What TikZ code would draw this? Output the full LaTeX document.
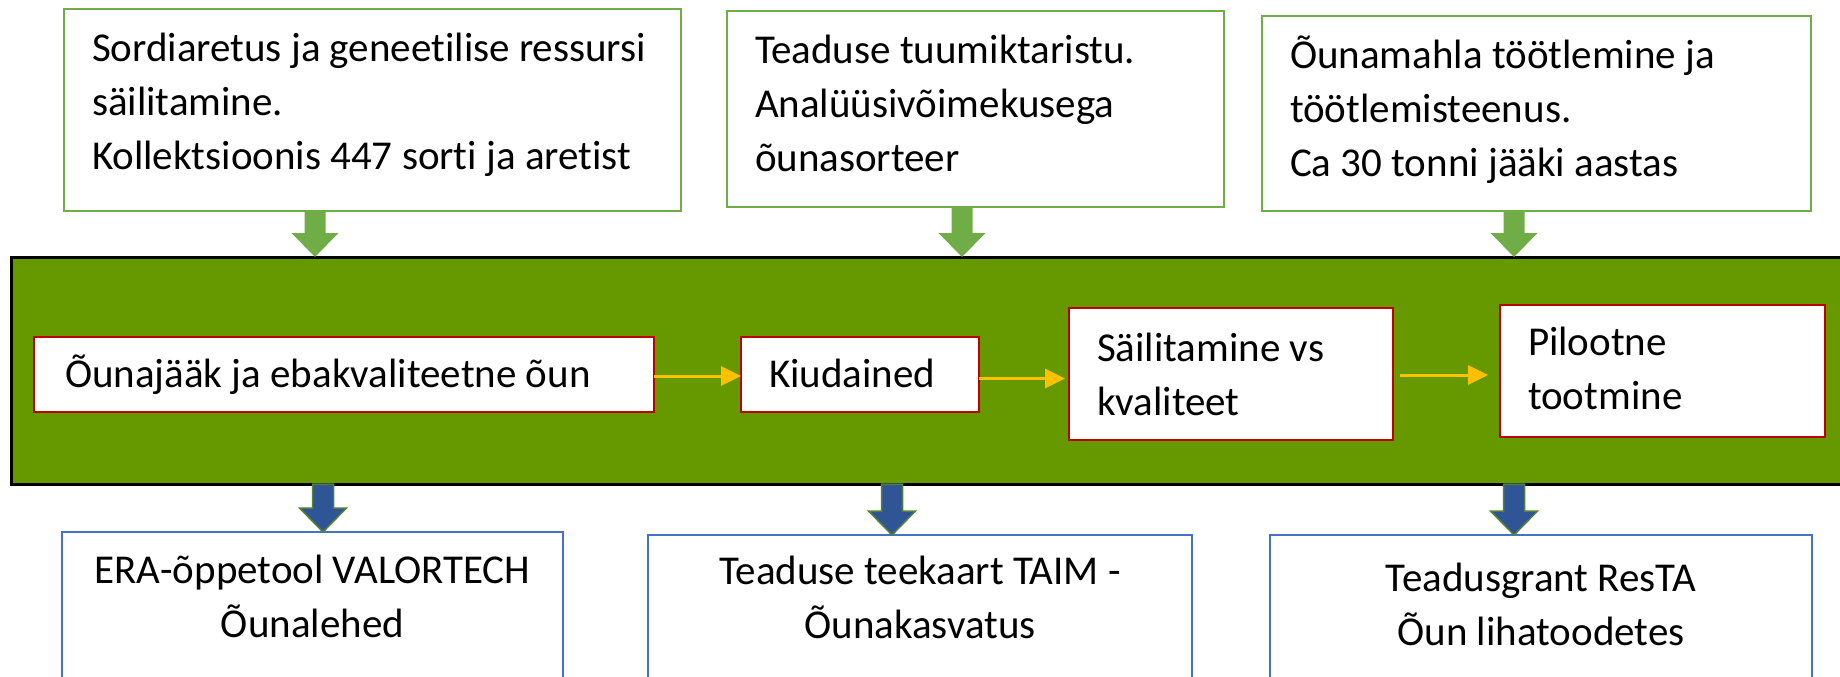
\documentclass[tikz,border=0pt]{standalone}
\usepackage{fontspec}
\setmainfont{Carlito}[Ligatures=NoCommon]
\usetikzlibrary{arrows.meta,calc}
\definecolor{topgreen}{HTML}{70AD47}
\definecolor{bandgreen}{HTML}{669900}
\definecolor{boxred}{HTML}{C00000}
\definecolor{arrorange}{HTML}{FFC000}
\definecolor{arrblue}{HTML}{2F5597}
\definecolor{edgegreen}{HTML}{548235}
\definecolor{boxblue}{HTML}{4472C4}
\newcommand\blockarr[3]{%
  \path[#1] let \p1=(#2), \p2=(#3) in
    (\x1-10.5pt,\y1) -- (\x1+10.5pt,\y1) -- (\x1+10.5pt,\y2+24pt) -- (\x1+23.5pt,\y2+24pt)
    -- (\x1,\y2) -- (\x1-23.5pt,\y2+24pt) -- (\x1-10.5pt,\y2+24pt) -- cycle;}
\tikzset{
  box/.style={rectangle, inner sep=0pt, outer sep=0pt, anchor=north west},
  topbox/.style={box, draw=topgreen, line width=2.5pt, fill=white},
  redbox/.style={box, draw=boxred, line width=2.5pt, fill=white},
  botbox/.style={box, draw=boxblue, line width=2pt, fill=white},
  bandbox/.style={box, draw=black, line width=3pt, fill=bandgreen},
  txt/.style={inner sep=0pt, outer sep=0pt, font=\fontsize{41}{54}\selectfont, text=black},
  ltxt/.style={txt, anchor=base west, align=left},
  ctxt/.style={txt, anchor=base, align=center},
  greenarr/.style={fill=topgreen},
  bluearr/.style={fill=arrblue, draw=edgegreen, line width=1.5pt},
  orangearr/.style={draw=arrorange, line width=3pt, -{Triangle[length=20pt,width=19pt]}},
}
\begin{document}
\begin{tikzpicture}[x=1pt,y=-1pt]
\useasboundingbox (0,0) rectangle (1840,677);
\clip (0,0) rectangle (1840,677);
\fill[white] (0,0) rectangle (1840,677);

% top boxes
\node[topbox, minimum width=617pt, minimum height=202pt] (b1) at (64,9) {};
\node[topbox, minimum width=497pt, minimum height=196pt] (b2) at (727,11) {};
\node[topbox, minimum width=549pt, minimum height=195pt] (b3) at (1262,16) {};
% (anchor base = baseline of the last line)
\node[ltxt] (t1) at (92,169) {Sordiaretus ja geneetilise ressursi\\säilitamine.\\Kollektsioonis 447 sorti ja aretist};
\node[ltxt] (t2) at (755,171) {Teaduse tuumiktaristu.\\Analüüsivõimekusega\\õunasorteer};
\node[ltxt] (t3) at (1290,176) {Õunamahla töötlemine ja\\töötlemisteenus.\\Ca 30 tonni jääki aastas};

% band
\node[bandbox, minimum width=1859pt, minimum height=227pt] (band) at (11,257) {};

% inner boxes
\node[redbox, minimum width=620pt, minimum height=75pt] (A) at (34,337) {};
\node[redbox, minimum width=238pt, minimum height=75pt] (B) at (741,337) {};
\node[redbox, minimum width=324pt, minimum height=132pt] (C) at (1069,308) {};
\node[redbox, minimum width=325pt, minimum height=132pt] (D) at (1500,305) {};
\node[ltxt] (ta) at (65,387) {Õunajääk ja ebakvaliteetne õun};
\node[ltxt] (tb) at (769,387) {Kiudained};
\node[ltxt] (tc) at (1097,415) {Säilitamine vs\\kvaliteet};
\node[ltxt] (td) at (1528,409) {Pilootne\\tootmine};

% bottom boxes
\node[botbox, minimum width=501pt, minimum height=200pt] (E) at (62,532) {};
\node[botbox, minimum width=544pt, minimum height=200pt] (F) at (648,535) {};
\node[botbox, minimum width=542pt, minimum height=200pt] (G) at (1270,535) {};
\node[ctxt] (te) at (312.5,637) {ERA-õppetool VALORTECH\\Õunalehed};
\node[ctxt] (tf) at (920,638) {Teaduse teekaart TAIM -\\Õunakasvatus};
\node[ctxt] (tg) at (1541,645) {Teadusgrant ResTA\\Õun lihatoodetes};

% arrow axes
\coordinate (g1) at (315,0);
\coordinate (g2) at (962,0);
\coordinate (g3) at (1514,0);
\coordinate (u1) at (323,0);
\coordinate (u2) at (892,0);
\coordinate (u3) at (1514,0);

% green arrows (top boxes -> band)
\blockarr{greenarr}{b1.south -| g1}{band.north -| g1}
\blockarr{greenarr}{b2.south -| g2}{band.north -| g2}
\blockarr{greenarr}{b3.south -| g3}{band.north -| g3}

% blue arrows (band -> bottom boxes)
\blockarr{bluearr}{band.south -| u1}{E.north -| u1}
\blockarr{bluearr}{band.south -| u2}{F.north -| u2}
\blockarr{bluearr}{band.south -| u3}{G.north -| u3}

% orange arrows
\draw[orangearr] ([yshift=-1.5pt]A.east) -- ([yshift=-1.5pt]A.east -| B.west);
\draw[orangearr, shorten >=4pt] ([yshift=-4pt]B.east) -- ([yshift=-4pt]B.east -| C.west);
\draw[orangearr, shorten <=7pt, shorten >=12pt] ([yshift=-1pt]C.east) -- ([yshift=-1pt]C.east -| D.west);
\end{tikzpicture}
\end{document}
